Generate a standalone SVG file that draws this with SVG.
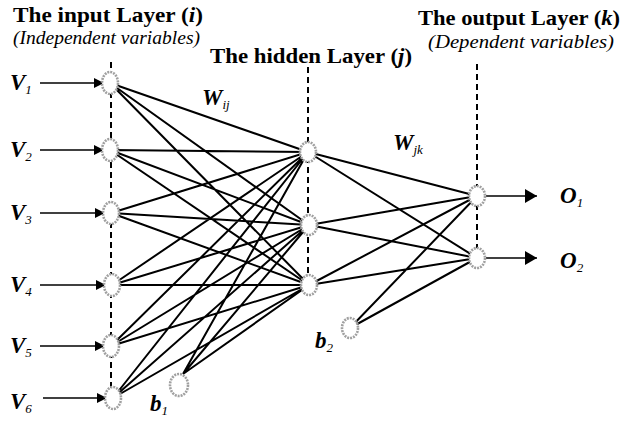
<svg xmlns="http://www.w3.org/2000/svg" width="629" height="424" viewBox="0 0 629 424">
<style>
.t{font-family:"Liberation Serif",serif;font-weight:bold;font-size:22px;fill:#000}
.st{font-family:"Liberation Serif",serif;font-style:italic;font-size:19px;fill:#000}
.v{font-family:"Liberation Serif",serif;font-weight:bold;font-style:italic;font-size:23px;fill:#000}
.sub{font-weight:normal;font-size:13px}
.dash{stroke:#000;stroke-width:2;stroke-dasharray:6 4;fill:none}
.c{stroke:#000;stroke-width:2;fill:none}
.a{stroke:#000;stroke-width:1.5;fill:none}
.n{fill:#fff;stroke:#a0a0a0;stroke-width:2.6;stroke-dasharray:2 1}
</style>
<defs>
<marker id="ah" markerWidth="10" markerHeight="10" refX="9" refY="5" orient="auto" markerUnits="userSpaceOnUse" viewBox="0 0 10 10">
<path d="M0,0 L10,5 L0,10 z" fill="#000"/>
</marker>
<marker id="ah2" markerWidth="12" markerHeight="14" refX="12" refY="7" orient="auto" markerUnits="userSpaceOnUse" viewBox="0 0 12 14">
<path d="M0,0 L12,7 L0,14 z" fill="#000"/>
</marker>
</defs>
<g id="titles">
<text class="t" x="13" y="22" textLength="190" lengthAdjust="spacingAndGlyphs">The input Layer (<tspan font-style="italic">i</tspan>)</text>
<text class="st" x="13" y="44" textLength="187" lengthAdjust="spacingAndGlyphs">(Independent variables)</text>
<text class="t" x="210" y="63" textLength="202" lengthAdjust="spacingAndGlyphs">The hidden Layer (<tspan font-style="italic">j</tspan>)</text>
<text class="t" x="418" y="25" textLength="202" lengthAdjust="spacingAndGlyphs">The output Layer (<tspan font-style="italic">k</tspan>)</text>
<text class="st" x="428" y="48" textLength="186" lengthAdjust="spacingAndGlyphs">(Dependent variables)</text>
</g>
<g id="guides">
<line class="dash" x1="111" y1="62" x2="111" y2="400"/>
<line class="dash" x1="308" y1="67" x2="308" y2="290"/>
<line class="dash" x1="477" y1="64" x2="477" y2="262"/>
</g>
<g id="connectors">
<path class="c" d="M110,83 L308,152 M110,83 L309,225 M110,83 L309,285
M110,150 L308,152 M110,150 L309,225 M110,150 L309,285
M111,213 L308,152 M111,213 L309,225 M111,213 L309,285
M112,285 L308,152 M112,285 L309,225 M112,285 L309,285
M111,346 L308,152 M111,346 L309,225 M111,346 L309,285
M113,398 L308,152 M113,398 L309,225 M113,398 L309,285
M183,374 L308,152 M183,374 L309,225 M183,374 L309,285
M308,152 L477,196 M308,152 L477,258
M309,225 L477,196 M309,225 L477,258
M309,285 L477,196 M309,285 L477,258
M350,328 L477,196 M350,328 L477,258"/>
<line class="a" x1="40" y1="83" x2="103" y2="83" marker-end="url(#ah)"/>
<line class="a" x1="40" y1="150" x2="103" y2="150" marker-end="url(#ah)"/>
<line class="a" x1="40" y1="213" x2="104" y2="213" marker-end="url(#ah)"/>
<line class="a" x1="40" y1="285" x2="105" y2="285" marker-end="url(#ah)"/>
<line class="a" x1="40" y1="346" x2="104" y2="346" marker-end="url(#ah)"/>
<line class="a" x1="43" y1="398" x2="106" y2="398" marker-end="url(#ah)"/>
<line class="a" x1="486" y1="196" x2="537" y2="196" marker-end="url(#ah2)"/>
<line class="a" x1="486" y1="258" x2="537" y2="258" marker-end="url(#ah2)"/>
</g>
<g id="input-nodes">
<g id="i1"><ellipse class="n" cx="110" cy="83" rx="8" ry="11"/></g>
<g id="i2"><ellipse class="n" cx="110" cy="150" rx="8" ry="11"/></g>
<g id="i3"><ellipse class="n" cx="111" cy="213" rx="8" ry="11"/></g>
<g id="i4"><ellipse class="n" cx="112" cy="285" rx="8" ry="11"/></g>
<g id="i5"><ellipse class="n" cx="111" cy="346" rx="8" ry="11"/></g>
<g id="i6"><ellipse class="n" cx="113" cy="398" rx="8" ry="11"/></g>
<g id="b1"><ellipse class="n" cx="179" cy="385" rx="9" ry="11"/></g>
</g>
<g id="hidden-nodes">
<g id="h1"><ellipse class="n" cx="308" cy="152" rx="8" ry="10"/></g>
<g id="h2"><ellipse class="n" cx="309" cy="225" rx="8" ry="10"/></g>
<g id="h3"><ellipse class="n" cx="309" cy="285" rx="8" ry="10"/></g>
<g id="b2"><ellipse class="n" cx="350" cy="328" rx="8" ry="10"/></g>
</g>
<g id="output-nodes">
<g id="o1"><ellipse class="n" cx="477" cy="196" rx="8" ry="10"/></g>
<g id="o2"><ellipse class="n" cx="477" cy="258" rx="8" ry="10"/></g>
</g>
<g id="labels">
<text class="v" x="10" y="90">V<tspan class="sub" dy="4">1</tspan></text>
<text class="v" x="10" y="157">V<tspan class="sub" dy="4">2</tspan></text>
<text class="v" x="10" y="220">V<tspan class="sub" dy="4">3</tspan></text>
<text class="v" x="10" y="292">V<tspan class="sub" dy="4">4</tspan></text>
<text class="v" x="10" y="353">V<tspan class="sub" dy="4">5</tspan></text>
<text class="v" x="10" y="409">V<tspan class="sub" dy="4">6</tspan></text>
<text class="v" x="150" y="411">b<tspan class="sub" dy="4">1</tspan></text>
<text class="v" x="315" y="348">b<tspan class="sub" dy="4">2</tspan></text>
<text class="v" x="202" y="105">W<tspan class="sub" dy="4">ij</tspan></text>
<text class="v" x="393" y="150">W<tspan class="sub" dy="4">jk</tspan></text>
<text class="v" x="560" y="203">O<tspan class="sub" dy="4">1</tspan></text>
<text class="v" x="560" y="268">O<tspan class="sub" dy="4">2</tspan></text>
</g>
</svg>
